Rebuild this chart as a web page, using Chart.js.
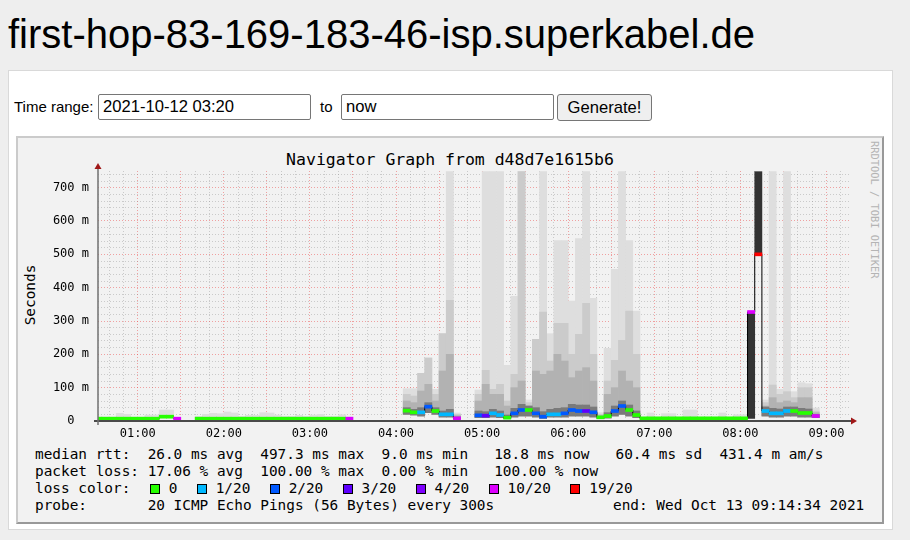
<!DOCTYPE html>
<html lang="en">
<head>
  <meta charset="UTF-8">
  <title>first-hop-83-169-183-46-isp.superkabel.de</title>
  <script src="https://cdn.jsdelivr.net/npm/chart.js"></script>
  <style>
    body { margin: 0; background: #eeeeee; font-family: "Liberation Sans", Arial, sans-serif; }
    h1 { position: absolute; left: 8px; top: 10px; margin: 0; font-size: 40px; font-weight: normal; line-height: 48px; color: #000; }
    .panel { position: absolute; left: 8px; top: 70px; width: 885px; height: 460px; box-sizing: border-box; background: #fff; border: 1px solid #d9d9d9; }
    .lbl { position: absolute; top: 98px; font-size: 15px; line-height: 18px; }
    .field { position: absolute; top: 94px; width: 213px; height: 26px; box-sizing: border-box; border: 1px solid #767676; border-radius: 2px;
             padding: 0 4px; font: 16.6px "Liberation Sans", Arial, sans-serif; line-height: 24px; background: #fff; }
    .btn { position: absolute; left: 557px; top: 94px; width: 95px; height: 27px; box-sizing: border-box; border: 1px solid #767676; border-radius: 3px;
           background: #efefef; font: 16.6px "Liberation Sans", Arial, sans-serif; text-align: center; line-height: 25px; }
    .graph { position: absolute; left: 16px; top: 136px; width: 868px; height: 388px; box-sizing: border-box; background: #f2f2f2;
             border-style: solid; border-width: 2px; border-color: #cbcbcb #999 #999 #cbcbcb; }
    .mono { font-family: "DejaVu Sans Mono", monospace; color: #000; }
    #graphTitle { position: absolute; left: 16px; width: 868px; top: 150px; text-align: center; font-size: 16.5px; line-height: 20px; }
    #yTitle { position: absolute; left: -5px; top: 286px; width: 70px; text-align: center; font-size: 14.4px; line-height: 18px; transform: rotate(-90deg); }
    #credit { position: absolute; left: 869px; top: 141px; writing-mode: vertical-rl; font-size: 10.4px; color: #b4b4b4; }
    #chartBox { position: absolute; left: 16px; top: 137px; width: 868px; height: 308px; }
    .legend { position: absolute; left: 35px; top: 446px; font-size: 14.4px; line-height: 17px; white-space: pre; }
    .sw { display: inline-block; width: 8px; height: 8px; border: 1px solid #000; margin: 0 9px 0 2px; vertical-align: -1px; }
    #endTime { position: absolute; left: 613px; top: 497px; font-size: 14.4px; line-height: 17px; white-space: pre; }
  </style>
</head>
<body>
<h1>first-hop-83-169-183-46-isp.superkabel.de</h1>
<div class="panel"></div>
<span class="lbl" style="left:14px">Time range:</span>
<div class="field" style="left:98px">2021-10-12 03:20</div>
<span class="lbl" style="left:320px">to</span>
<div class="field" style="left:341px">now</div>
<div class="btn">Generate!</div>

<div class="graph"></div>
<div id="graphTitle" class="mono">Navigator Graph from d48d7e1615b6</div>
<div id="yTitle" class="mono">Seconds</div>
<div id="credit" class="mono">RRDTOOL / TOBI OETIKER</div>
<div id="chartBox"><canvas id="smoke" width="868" height="308"></canvas></div>
<div class="legend mono" id="legend"></div>
<div id="endTime" class="mono">end: Wed Oct 13 09:14:34 2021</div>

<script>
  const _ = null;
  // 5-minute bins, first bin starts 00:30 (minutes after midnight)
  const startMinute = 30;
  const stepMinutes = 5;

  // median rtt per bin (ms)
  const medianRtt = [
    7, 7, 7, 7, 7, 7, 7, 7, 7, 13, 13, 7,           // 00:30 - 01:25
    _, _,                                           // 01:30 - 01:35
    7, 7, 7, 7, 7, 7, 7, 7, 7, 7, 7, 7,             // 01:40 - 02:35
    7, 7, 7, 7, 7, 7, 7, 7, 7, 7,                   // 02:40 - 03:25
    _, _, _, _, _, _, _,                            // 03:30 - 04:00
    31, 26, 26, 43, 30, 20, 20, 8,                  // 04:05 - 04:40
    _, _,                                           // 04:45 - 04:50
    17, 16, 23, 18, 10, 23, 33, 33, 23, 13, 20, 20, // 04:55 - 05:50
    23, 33, 30, 30, 26, 11, 15, 30, 45, 33, 18,     // 05:55 - 06:45
    8, 8, 8, 8, 8, 8, 8, 8, 8, 8, 8, 8, 8, 8, 8,    // 06:50 - 08:00
    327, 500,                                       // 08:05 - 08:10
    30, 23, 23, 30, 30, 24, 24, 15,                 // 08:15 - 08:50
    _, _, _, _                                      // 08:55 - 09:10
  ];

  // loss bucket per bin: index into lossLabels
  const lossIndex = [
    0, 0, 0, 0, 0, 0, 0, 0, 0, 0, 0, 5,
    _, _,
    0, 0, 0, 0, 0, 0, 0, 0, 0, 0, 0, 0,
    0, 0, 0, 0, 0, 0, 0, 0, 0, 5,
    _, _, _, _, _, _, _,
    0, 0, 1, 2, 0, 1, 1, 5,
    _, _,
    2, 3, 1, 1, 0, 2, 2, 0, 2, 2, 1, 1,
    2, 2, 2, 3, 2, 0, 0, 2, 2, 0, 0,
    0, 0, 0, 0, 0, 0, 0, 0, 0, 0, 0, 0, 0, 0, 0,
    5, 6,
    1, 1, 1, 1, 0, 0, 0, 5,
    _, _, _, _
  ];

  // smoke: lowest ping, dark/mid/high bands and highest ping (ms)
  const rttMin = [
    6, 6, 6, 6, 6, 6, 6, 6, 6, 9, 9, 6,
    _, _,
    6, 6, 6, 6, 6, 6, 6, 6, 6, 6, 6, 6,
    6, 6, 6, 6, 6, 6, 6, 6, 6, 6,
    _, _, _, _, _, _, _,
    20, 18, 15, 25, 20, 12, 12, 6,
    _, _,
    10, 10, 12, 10, 7, 12, 15, 15, 12, 8, 12, 12,
    12, 15, 15, 15, 12, 7, 9, 15, 20, 15, 10,
    6, 6, 6, 6, 6, 6, 6, 6, 6, 6, 6, 6, 6, 6, 6,
    _, _,
    15, 12, 12, 15, 15, 12, 12, 10,
    _, _, _, _
  ];
  const rttLow = [
    _, _, _, _, _, _, _, _, _, _, _, _,
    _, _,
    _, _, _, _, _, _, _, _, _, _, _, _,
    _, _, _, _, _, _, _, _, _, _,
    _, _, _, _, _, _, _,
    40, 35, 40, 55, 40, 30, 35, 12,
    _, _,
    30, 28, 35, 30, 18, 38, 50, 45, 40, 28, 35, 38,
    40, 50, 48, 48, 42, 14, 25, 45, 60, 48, 30,
    _, _, _, _, _, _, _, _, _, _, _, _, _, _, _,
    _, _,
    42, 38, 36, 42, 42, 38, 36, 20,
    _, _, _, _
  ];
  const rttMid = [
    _, _, _, _, _, _, _, _, _, _, _, _,
    _, _,
    _, _, _, _, _, _, _, _, _, _, _, _,
    _, _, _, _, _, _, _, _, _, _,
    _, _, _, _, _, _, _,
    60, 55, 90, 110, 60, 150, 200, 16,
    _, _,
    60, 110, 80, 80, 45, 100, 120, 45, 150, 140, 150, 200,
    180, 130, 150, 160, 120, 16, 80, 100, 150, 120, 100,
    _, _, _, _, _, _, _, _, _, _, _, _, _, _, _,
    _, _,
    45, 70, 55, 60, 55, 70, 70, 25,
    _, _, _, _
  ];
  const rttHigh = [
    _, _, _, _, _, _, _, _, _, _, _, _,
    _, _,
    _, _, _, _, _, _, _, _, _, _, _, _,
    _, _, _, _, _, _, _, _, _, _,
    _, _, _, _, _, _, _,
    80, 75, 143, 189, 80, 262, 362, 20,
    _, _,
    80, 152, 95, 110, 60, 140, 748, 55, 245, 327, 180, 293,
    293, 200, 260, 353, 200, 20, 120, 182, 242, 330, 200,
    _, _, _, _, _, _, _, _, _, _, _, _, _, _, _,
    _, _,
    55, 108, 80, 88, 70, 100, 100, 30,
    _, _, _, _
  ];
  const rttMax = [
    12, 12, 12, 23, 20, 12, 12, 18, 18, 33, 33, 11,
    _, _,
    14, 20, 23, 22, 27, 24, 14, 17, 17, 25, 24, 18,
    14, 14, 17, 14, 18, 20, 14, 14, 19, 12,
    _, _, _, _, _, _, _,
    97, 97, 143, 189, 95, 262, 748, 24,
    _, _,
    93, 748, 748, 748, 167, 374, 748, 63, 245, 748, 262, 541,
    541, 360, 547, 748, 368, 25, 218, 455, 748, 541, 330,
    10, 24, 12, 22, 22, 12, 33, 33, 12, 12, 12, 24, 12, 19, 19,
    _, _,
    63, 748, 95, 748, 88, 115, 112, 39,
    _, _, _, _
  ];

  // bins with very few replies: a single dark block
  const darkTimes = ['08:05', '08:10'];
  const darkLow = [8, 500];
  const darkHigh = [327, 748];

  const lossLabels = ['0', '1/20', '2/20', '3/20', '4/20', '10/20', '19/20'];
  const lossColors = ['#26ff00', '#00b8ff', '#0059ff', '#5e00ff', '#7e00ff', '#dd00ff', '#ff0000'];

  const xTickValues = [];
  for (let m = 40; m <= 550; m += 10) xTickValues.push(m);
  const yTickValues = [];
  for (let v = 0; v <= 740; v += 20) yTickValues.push(v);

  const legendLines = [
    'median rtt:  26.0 ms avg  497.3 ms max  9.0 ms min   18.8 ms now   60.4 ms sd  431.4 m am/s',
    'packet loss: 17.06 % avg  100.00 % max  0.00 % min   100.00 % now'
  ];
  const probeLine = 'probe:       20 ICMP Echo Pings (56 Bytes) every 300s';

  function binCenter(i) { return startMinute + stepMinutes * i + stepMinutes / 2; }
  function toMinutes(t) { const p = t.split(':'); return +p[0] * 60 + +p[1]; }

  function band(lo, hi) {
    const out = [];
    hi.forEach((v, i) => { if (v != null && lo[i] != null) out.push({ x: binCenter(i), y: [lo[i], v] }); });
    return out;
  }

  function smokeSet(label, data, color, order) {
    return { type: 'bar', label, data, backgroundColor: color, borderWidth: 0, grouped: false,
             barPercentage: 1, categoryPercentage: 1, order, clip: 0 };
  }

  const medianBand = [];
  medianRtt.forEach((m, i) => { if (m != null) medianBand.push({ x: binCenter(i), y: [m - 4.5, m + 4.5], loss: lossIndex[i] }); });
  const medianLine = medianRtt.map((m, i) => ({ x: binCenter(i), y: m }));
  const darkData = darkTimes.map((t, k) => ({ x: toMinutes(t) + stepMinutes / 2, y: [darkLow[k], darkHigh[k]] }));

  const axisPlugin = {
    id: 'rrdAxes',
    afterDraw(chart) {
      const { ctx, chartArea: a } = chart;
      ctx.save();
      ctx.strokeStyle = '#4a4a4a';
      ctx.lineWidth = 2;
      ctx.beginPath(); ctx.moveTo(a.left - 4, a.bottom); ctx.lineTo(a.right + 2, a.bottom); ctx.stroke();
      ctx.strokeStyle = '#707070';
      ctx.lineWidth = 1.5;
      ctx.beginPath(); ctx.moveTo(a.left, a.bottom + 4); ctx.lineTo(a.left, a.top - 3); ctx.stroke();
      ctx.fillStyle = '#a01818';
      ctx.beginPath(); ctx.moveTo(a.left - 3.5, a.top - 2); ctx.lineTo(a.left + 3.5, a.top - 2); ctx.lineTo(a.left, a.top - 8); ctx.closePath(); ctx.fill();
      ctx.beginPath(); ctx.moveTo(a.right + 2, a.bottom - 3.5); ctx.lineTo(a.right + 2, a.bottom + 3.5); ctx.lineTo(a.right + 8, a.bottom); ctx.closePath(); ctx.fill();
      ctx.restore();
    }
  };

  const monoTicks = { family: 'DejaVu Sans Mono', size: 12 };

  new Chart(document.getElementById('smoke'), {
    data: {
      datasets: [
        { type: 'bar', label: 'median', data: medianBand, order: 0, grouped: false, clip: 0,
          barPercentage: 1, categoryPercentage: 1, borderWidth: 0,
          backgroundColor: ctx => lossColors[ctx.raw ? ctx.raw.loss : 0] },
        { type: 'line', label: 'median line', data: medianLine, order: 1, stepped: 'middle', spanGaps: false,
          borderColor: '#000', borderWidth: 1, pointRadius: 0, clip: 0 },
        smokeSet('few pings', darkData, '#333333', 2),
        smokeSet('smoke low', band(rttMin, rttLow), '#7a7a7a', 3),
        smokeSet('smoke mid', band(rttMin, rttMid), '#b2b2b2', 4),
        smokeSet('smoke high', band(rttMin, rttHigh), '#cbcbcb', 5),
        smokeSet('smoke max', band(rttMin, rttMax), '#dedede', 6)
      ]
    },
    options: {
      responsive: false,
      animation: false,
      layout: { padding: { left: 0, right: 35, top: 34, bottom: 0 } },
      plugins: { legend: { display: false }, tooltip: { enabled: false } },
      scales: {
        x: {
          type: 'linear', min: 32.3, max: 555.7, z: 1, offset: false,
          afterBuildTicks: s => { s.ticks = xTickValues.map(v => ({ value: v })); },
          afterFit: s => { s.height = 24; },
          ticks: {
            autoSkip: false, maxRotation: 0, padding: 6, color: '#000', font: monoTicks,
            callback: v => v % 60 === 0 ? String(v / 60).padStart(2, '0') + ':00' : ''
          },
          grid: {
            offset: false, drawTicks: false, lineWidth: 1,
            color: c => c.tick && c.tick.value % 30 === 0 ? 'rgba(235,60,60,0.45)' : 'rgba(130,130,130,0.35)'
          },
          border: { display: false, dash: [1, 2] }
        },
        y: {
          type: 'linear', min: 0, max: 750, z: 1,
          afterBuildTicks: s => { s.ticks = yTickValues.map(v => ({ value: v })); },
          afterFit: s => { s.width = 82; },
          ticks: {
            autoSkip: false, padding: 9, color: '#000', font: monoTicks,
            callback: v => v === 0 ? '0  ' : (v % 100 === 0 ? v + ' m' : '')
          },
          grid: {
            drawTicks: false, lineWidth: 1,
            color: c => c.tick && c.tick.value % 100 === 0 ? 'rgba(235,60,60,0.45)' : 'rgba(130,130,130,0.35)'
          },
          border: { display: false, dash: [1, 2] }
        }
      }
    },
    plugins: [axisPlugin]
  });

  // text legend below the graph
  const legend = document.getElementById('legend');
  let html = legendLines.join('\n') + '\n' + 'loss color:  ';
  lossLabels.forEach((l, i) => {
    html += '<span class="sw" style="background:' + lossColors[i] + '"></span>' + l + (i < lossLabels.length - 1 ? '  ' : '');
  });
  html += '\n' + probeLine;
  legend.innerHTML = html;
</script>
</body>
</html>
